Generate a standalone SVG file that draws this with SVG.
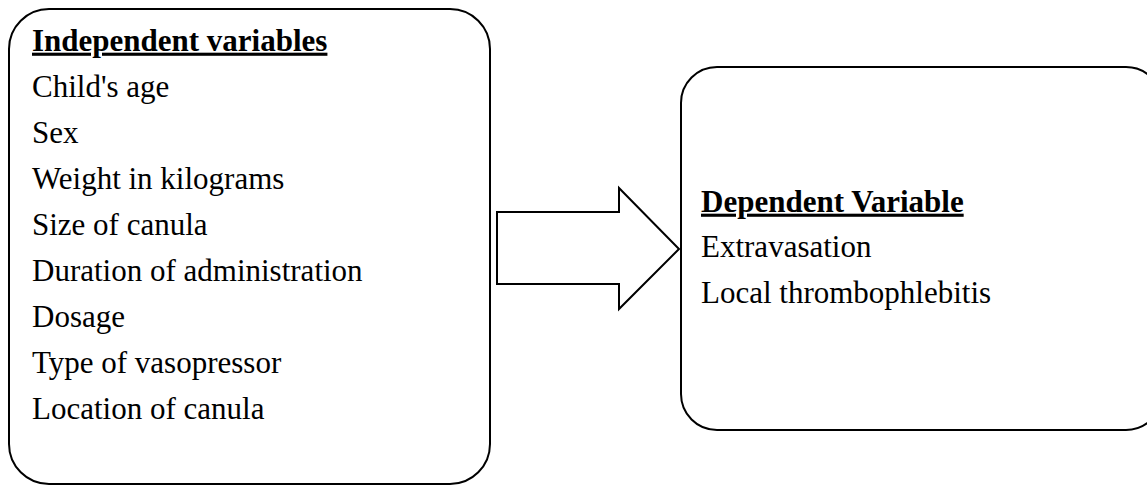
<svg xmlns="http://www.w3.org/2000/svg" width="1147" height="485" viewBox="0 0 1147 485">
  <style>
    .box { fill: #ffffff; stroke: #000000; stroke-width: 2; }
    .arrow { fill: #ffffff; stroke: #000000; stroke-width: 2; stroke-linejoin: miter; }
    text { font-family: "Liberation Serif", "Times New Roman", serif; font-size: 31px; fill: #000000; }
    .head { font-weight: bold; text-decoration: underline; }
  </style>
  <rect width="1147" height="485" fill="#ffffff"/>
  <g id="independent">
    <rect class="box" x="9" y="9" width="481" height="475" rx="40" ry="40"/>
    <text class="head" x="32" y="50.7">Independent variables</text>
    <text x="32" y="96.7">Child's age</text>
    <text x="32" y="142.7">Sex</text>
    <text x="32" y="188.7">Weight in kilograms</text>
    <text x="32" y="234.7">Size of canula</text>
    <text x="32" y="280.7">Duration of administration</text>
    <text x="32" y="326.7">Dosage</text>
    <text x="32" y="372.7">Type of vasopressor</text>
    <text x="32" y="418.7">Location of canula</text>
  </g>
  <g id="connectors">
    <polygon class="arrow" points="497,212 619,212 619,188 679,249 619,309 619,284 497,284"/>
  </g>
  <g id="dependent">
    <rect class="box" x="681" y="67" width="481" height="363" rx="36" ry="36"/>
    <text class="head" x="701" y="211.7">Dependent Variable</text>
    <text x="701" y="257.4">Extravasation</text>
    <text x="701" y="303.1">Local thrombophlebitis</text>
  </g>
</svg>
